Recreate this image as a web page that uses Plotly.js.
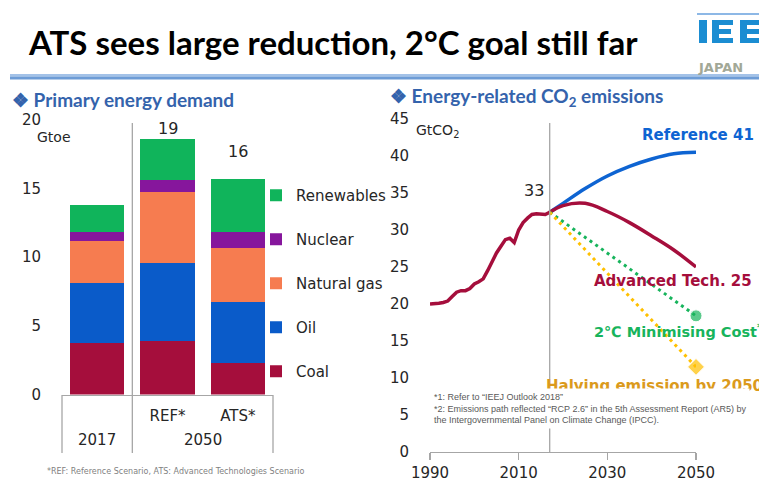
<!DOCTYPE html>
<html><head><meta charset="utf-8">
<script src="https://cdn.plot.ly/plotly-3.0.1.min.js"></script>
<style>html,body{margin:0;padding:0;background:#fff;}#chart{width:759px;height:479px;}</style>
</head><body><div id="chart"></div>
<script>
// ---------- Left panel: Primary energy demand (Gtoe) ----------
const categories = ["2017", "REF*", "ATS*"];
const innerLabels = ["", "REF*", "ATS*"];
const groupLabels = ["2017", "2050"];
const sourceNames = ["Coal", "Oil", "Natural gas", "Nuclear", "Renewables"];
const coal = [3.75, 3.89, 2.29];
const oil = [4.36, 5.67, 4.44];
const naturalGas = [3.05, 5.17, 3.92];
const nuclear = [0.66, 0.87, 1.17];
const renewables = [1.96, 2.98, 3.85];
const totalLabels = ["14", "19", "16"];
const leftTicks = [0, 5, 10, 15, 20];

// ---------- Right panel: Energy-related CO2 emissions (GtCO2) ----------
const histYears = [1990,1991,1992,1993,1994,1995,1996,1997,1998,1999,2000,2001,2002,2003,2004,2005,2006,2007,2008,2009,2010,2011,2012,2013,2014,2015,2016,2017];
const histCO2 = [20.0,20.0,20.1,20.2,20.4,21.0,21.6,21.8,21.8,22.1,22.7,23.0,23.4,24.5,25.8,26.9,27.8,28.7,28.9,28.3,30.0,31.0,31.6,32.1,32.2,32.1,32.1,32.4];
const projYears = [2017, 2020, 2025, 2030, 2035, 2040, 2045, 2050];
const referenceCO2 = [32.4, 33.6, 35.6, 37.3, 38.6, 39.6, 40.3, 40.5];
const advancedCO2 = [32.4, 33.3, 33.6, 32.5, 31.0, 29.2, 27.3, 25.0];
const pathYears = [2017, 2050];
const twoDegreeCO2 = [32.4, 18.4];
const halvingCO2 = [32.4, 11.5];
const baseYearLabel = "33";
const rightXTicks = [1990, 2010, 2030, 2050];
const rightYTicks = [0, 5, 10, 15, 20, 25, 30, 35, 40, 45];

// ---------- helpers ----------
const W = 759, H = 479;
const px = x => x / W;
const py = y => 1 - y / H;
const TXT = "#262626";
const BODY = "DejaVu Sans, Verdana, sans-serif";
const HEAD = "Lato, Calibri, sans-serif";
const colors = {
  coal: "#A50E3C", oil: "#0A5BC9", gas: "#F67C50", nuclear: "#86169C", renew: "#10B45B",
  ref: "#0E64D2", twoDeg: "#17B45C", halving: "#FFC000", axis: "#A6A6A6", head: "#3463AC"
};

const leftDom = [px(62), px(273)];
const rightDom = [px(430), px(696)];

const stackData = [coal, oil, naturalGas, nuclear, renewables];
const stackColors = [colors.coal, colors.oil, colors.gas, colors.nuclear, colors.renew];
const traces = stackData.map((vals, i) => ({
  type: "bar", x: categories, y: vals, name: sourceNames[i],
  marker: {color: stackColors[i], line: {width: 0}},
  width: 0.77, xaxis: "x", yaxis: "y",
  legendgroup: "g" + i, legendrank: stackData.length - i, hoverinfo: "name+y"
}));

const totals = categories.map((c, i) => stackData.reduce((s, a) => s + a[i], 0));

traces.push(
  {type: "scatter", mode: "lines", x: histYears, y: histCO2, xaxis: "x2", yaxis: "y2",
   line: {color: colors.coal, width: 3.5}, showlegend: false, cliponaxis: false},
  {type: "scatter", mode: "lines", x: projYears, y: referenceCO2, xaxis: "x2", yaxis: "y2",
   line: {color: colors.ref, width: 3.5, shape: "spline"}, showlegend: false, cliponaxis: false},
  {type: "scatter", mode: "lines", x: projYears, y: advancedCO2, xaxis: "x2", yaxis: "y2",
   line: {color: colors.coal, width: 3.5, shape: "spline"}, showlegend: false, cliponaxis: false},
  {type: "scatter", mode: "lines+markers", x: pathYears, y: twoDegreeCO2, xaxis: "x2", yaxis: "y2",
   line: {color: colors.twoDeg, width: 3, dash: "3px,4px"},
   marker: {size: [0, 12], color: colors.twoDeg, symbol: "circle"}, showlegend: false, cliponaxis: false},
  {type: "scatter", mode: "lines+markers", x: pathYears, y: halvingCO2, xaxis: "x2", yaxis: "y2",
   line: {color: colors.halving, width: 3, dash: "3px,4px"},
   marker: {size: [0, 13], color: colors.halving, symbol: "diamond"}, showlegend: false, cliponaxis: false}
);

const note = (o) => Object.assign({showarrow: false, xanchor: "left", yanchor: "middle", xref: "paper", yref: "paper"}, o);
const labelLift = [23, -1, 16];
const annotations = [];
// totals above bars
categories.forEach((c, i) => annotations.push(note({
  xref: "x", yref: "y", x: c, y: totals[i], xanchor: "center", yanchor: "bottom", yshift: labelLift[i],
  text: totalLabels[i], font: {family: BODY, size: 16, color: TXT}
})));
annotations.push(
  note({xref: "x", x: 0, y: py(440), xanchor: "center", text: groupLabels[0], font: {family: BODY, size: 15, color: TXT}}),
  note({xref: "x", x: 1.5, y: py(440), xanchor: "center", text: groupLabels[1], font: {family: BODY, size: 15, color: TXT}}),
  note({x: px(35), y: py(137), text: "Gtoe", font: {family: BODY, size: 14, color: TXT}}),
  note({x: px(414), y: py(131), text: "GtCO<sub>2</sub>", font: {family: BODY, size: 14, color: TXT}}),
  note({xref: "x2", yref: "y2", x: 2017, y: referenceCO2[0], xanchor: "right", yanchor: "bottom", xshift: -4, yshift: 10, text: baseYearLabel, font: {family: BODY, size: 16, color: TXT}}),
  note({x: px(640), y: py(135), text: "Reference " + Math.round(referenceCO2[referenceCO2.length-1]), font: {family: BODY, size: 15, color: colors.ref, weight: "bold"}}),
  note({x: px(592), y: py(281), text: "Advanced Tech. " + Math.round(advancedCO2[advancedCO2.length-1]), font: {family: BODY, size: 15, color: colors.coal, weight: "bold"}}),
  note({x: px(592), y: py(331), text: "2℃ Minimising Cost<sup>*1</sup>", font: {family: BODY, size: 14.5, color: colors.twoDeg, weight: "bold"}}),
  note({x: px(544), y: py(385), text: "Halving emission by 2050<sup>*2</sup>", font: {family: BODY, size: 15, color: "#DB9A1C", weight: "bold"}}),
  note({x: px(430), y: py(388), yanchor: "top", align: "left",
   text: "*1: Refer to “IEEJ Outlook 2018”<br>*2: Emissions path reflected “RCP 2.6” in the 5th Assessment Report (AR5) by<br>the Intergovernmental Panel on Climate Change (IPCC).",
   bgcolor: "#FFFFFF", borderpad: 3, font: {family: "Liberation Sans, Arial, sans-serif", size: 9, color: "#595959"}}),
  note({x: px(45), y: py(471), text: "*REF: Reference Scenario, ATS: Advanced Technologies Scenario", font: {family: BODY, size: 8, color: "#7F7F7F"}}),
  // slide header
  note({x: px(26), y: py(42), text: "ATS sees large reduction, 2°C goal still far", font: {family: HEAD, size: 33, color: "#000000", weight: "bold"}}),
  note({x: px(10), y: py(99), text: "❖ Primary energy demand", font: {family: HEAD, size: 19, color: colors.head, weight: "bold"}}),
  note({x: px(388), y: py(97), text: "❖ Energy-related CO<sub>2</sub> emissions", font: {family: HEAD, size: 19, color: colors.head, weight: "bold"}}),
  note({x: px(696), y: py(67), text: "JAPAN", font: {family: "DejaVu Sans", size: 13, color: "#A2A897", weight: "bold"}})
);

const vline = (xref, x, y0, y1, color, w) => ({type: "line", xref: xref, yref: "paper", x0: x, x1: x, y0: py(y0), y1: py(y1), line: {color: color, width: w}});
const rect = (x0, y0, x1, y1, color) => ({type: "rect", xref: "paper", yref: "paper", x0: px(x0), x1: px(x1), y0: py(y1), y1: py(y0), fillcolor: color, line: {width: 0}, layer: "above"});
const logoBlue = "#1B8DD2";
const shapes = [
  vline("paper", leftDom[0], 395, 453, colors.axis, 1.3),
  vline("paper", leftDom[1], 395, 453, colors.axis, 1.3),
  vline("x", 0.5, 123, 453, colors.axis, 1.3),
  vline("x2", 2017, 123, 452, colors.axis, 1.3),
  rect(10, 74, 759, 76.5, "#A3C2E8"),
  rect(10, 76.5, 759, 79.5, "#6D9CD6"),
  {type: "line", xref: "paper", yref: "paper", x0: px(697), x1: px(759), y0: py(14), y1: py(14), line: {color: "#8DB8E6", width: 2}},
  rect(699, 20, 707, 43, logoBlue),
  rect(712, 20, 719, 43, logoBlue), rect(712, 20, 733, 25, logoBlue), rect(712, 29, 731, 34, logoBlue), rect(712, 38, 733, 43, logoBlue),
  rect(740, 20, 747, 43, logoBlue), rect(740, 20, 759, 25, logoBlue), rect(740, 29, 759, 34, logoBlue), rect(740, 38, 759, 43, logoBlue)
];

const layout = {
  width: W, height: H, margin: {l: 0, r: 0, t: 0, b: 0},
  paper_bgcolor: "#FFFFFF", plot_bgcolor: "rgba(0,0,0,0)",
  barmode: "stack",
  font: {family: BODY, size: 15, color: TXT},
  showlegend: true,
  legend: {x: px(256), xanchor: "left", y: py(179), yanchor: "top", traceorder: "grouped",
           tracegroupgap: 21.5, font: {family: BODY, size: 15, color: TXT}, bgcolor: "rgba(0,0,0,0)"},
  xaxis: {domain: leftDom, type: "category", range: [-0.5, 2.5], tickmode: "array", tickvals: categories, ticktext: innerLabels,
          showline: true, linecolor: colors.axis, linewidth: 1.3, ticks: "", showgrid: false, zeroline: false,
          ticklabelstandoff: 7, tickfont: {family: BODY, size: 15, color: TXT}, fixedrange: true},
  yaxis: {domain: [py(394.5), py(119.5)], range: [0, 20], tickvals: leftTicks, showgrid: false, zeroline: false,
          showline: false, ticks: "", ticklabelstandoff: 20, tickfont: {family: BODY, size: 15, color: TXT}, fixedrange: true},
  xaxis2: {domain: rightDom, range: [1990, 2050], tickvals: rightXTicks, anchor: "y2", showline: true, linecolor: colors.axis, linewidth: 1.3,
           ticks: "outside", ticklen: 7, tickcolor: colors.axis, tickwidth: 1.3, showgrid: false, zeroline: false,
           tickfont: {family: BODY, size: 15, color: TXT}, fixedrange: true},
  yaxis2: {domain: [py(452), py(119)], range: [0, 45], tickvals: rightYTicks, anchor: "x2", showgrid: false, zeroline: false,
           showline: false, ticks: "", ticklabelstandoff: 20, tickfont: {family: BODY, size: 15, color: TXT}, fixedrange: true},
  annotations: annotations,
  shapes: shapes
};

Plotly.newPlot("chart", traces, layout, {displayModeBar: false, staticPlot: true});
</script>
</body></html>
